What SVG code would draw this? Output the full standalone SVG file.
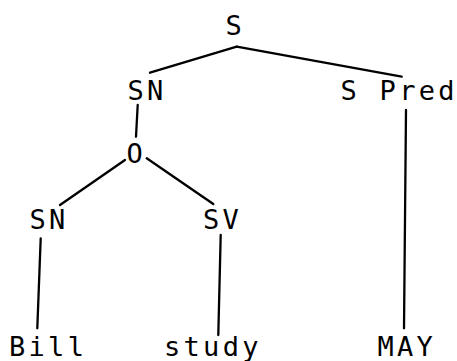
<svg xmlns="http://www.w3.org/2000/svg" width="457" height="361" viewBox="0 0 457 361">
  <style>
    .lbl { font-family: "DejaVu Sans Mono", "Liberation Mono", monospace; font-size: 27px; letter-spacing: 3.3px; fill: #000; }
    .edge { stroke: #000; stroke-width: 2.3; fill: none; stroke-linecap: round; }
  </style>
  <rect width="457" height="361" fill="#fff"/>
  <g id="connectors">
    <line class="edge" x1="236.7" y1="46.7" x2="150" y2="72.7"/>
    <line class="edge" x1="236.7" y1="46.7" x2="401.7" y2="76.7"/>
    <line class="edge" x1="137.7" y1="105" x2="136" y2="136.7"/>
    <line class="edge" x1="125" y1="160" x2="60" y2="205"/>
    <line class="edge" x1="146.7" y1="158.3" x2="213.3" y2="204"/>
    <line class="edge" x1="40.7" y1="238.3" x2="37.3" y2="328.3"/>
    <line class="edge" x1="220.7" y1="235" x2="218.3" y2="335"/>
    <line class="edge" x1="406" y1="110" x2="404" y2="328.3"/>
  </g>
  <g id="node-s"><text class="lbl" x="225.5" y="35">S</text></g>
  <g id="node-sn1"><text class="lbl" x="127.5" y="100">SN</text></g>
  <g id="node-spred"><text class="lbl" x="340.5" y="100">S Pred</text></g>
  <g id="node-o"><text class="lbl" x="126.5" y="163">O</text></g>
  <g id="node-sn2"><text class="lbl" x="29.5" y="229">SN</text></g>
  <g id="node-sv"><text class="lbl" x="203" y="229">SV</text></g>
  <g id="node-bill"><text class="lbl" x="9" y="356">Bill</text></g>
  <g id="node-study"><text class="lbl" x="164" y="356">study</text></g>
  <g id="node-may"><text class="lbl" x="377.5" y="356">MAY</text></g>
</svg>
